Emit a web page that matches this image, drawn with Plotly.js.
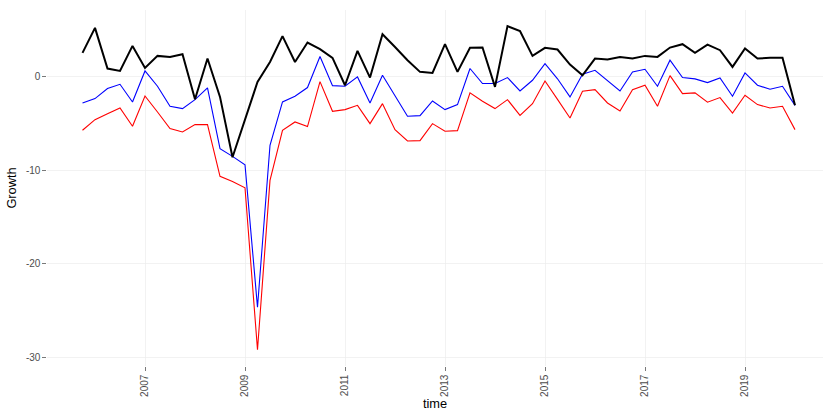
<!DOCTYPE html>
<html>
<head>
<meta charset="utf-8">
<script src="https://cdn.plot.ly/plotly-3.0.1.min.js"></script>
<style>html,body{margin:0;padding:0;background:#fff;}#chart{width:823px;height:411px;}</style>
</head>
<body>
<div id="chart"></div>
<script>
const time = [2005.75, 2006, 2006.25, 2006.5, 2006.75, 2007, 2007.25, 2007.5, 2007.75,
  2008, 2008.25, 2008.5, 2008.75, 2009, 2009.25, 2009.5, 2009.75,
  2010, 2010.25, 2010.5, 2010.75, 2011, 2011.25, 2011.5, 2011.75,
  2012, 2012.25, 2012.5, 2012.75, 2013, 2013.25, 2013.5, 2013.75,
  2014, 2014.25, 2014.5, 2014.75, 2015, 2015.25, 2015.5, 2015.75,
  2016, 2016.25, 2016.5, 2016.75, 2017, 2017.25, 2017.5, 2017.75,
  2018, 2018.25, 2018.5, 2018.75, 2019, 2019.25, 2019.5, 2019.75, 2020];

const growthBlack = [2.57, 5.25, 0.9, 0.64, 3.32, 0.96, 2.25, 2.14, 2.43, -2.39, 1.97, -2.14, -8.6, -4.54,
  -0.54, 1.6, 4.36, 1.6, 3.68, 2.97, 2.04, -0.89, 2.79, -0.07, 4.57, 3.2, 1.79, 0.54, 0.43, 3.5,
  0.54, 3.11, 3.14, -1.07, 5.43, 4.9, 2.25, 3.11, 2.93, 1.32, 0.18, 1.96, 1.86, 2.14, 1.96, 2.25,
  2.14, 3.14, 3.5, 2.57, 3.46, 2.86, 1.07, 3.04, 1.96, 2.04, 2.04, -3.04];

const growthBlue = [-2.79, -2.32, -1.25, -0.79, -2.68, 0.64, -1.0, -3.14, -3.39, -2.43, -1.18, -7.68, -8.5, -9.4,
  -24.65, -7.32, -2.68, -2.07, -1.14, 2.18, -0.93, -1.0, 0, -2.79, 0.18, -1.96, -4.21, -4.14, -2.57, -3.5,
  -2.96, 0.9, -0.71, -0.71, -0.07, -1.5, -0.36, 1.43, -0.2, -2.14, 0.29, 0.71, -0.43, -1.5, 0.54, 0.82,
  -1.0, 1.79, -0.07, -0.21, -0.61, -0.11, -2.07, 0.43, -0.89, -1.32, -1.0, -3.04];

const growthRed = [-5.71, -4.57, -3.93, -3.32, -5.28, -2.04, -3.75, -5.53, -5.89, -5.1, -5.1, -10.64, -11.18, -11.86,
  -29.2, -11.07, -5.71, -4.82, -5.32, -0.5, -3.68, -3.5, -3.04, -5.0, -2.86, -5.64, -6.86, -6.82, -5.0, -5.82,
  -5.75, -1.71, -2.61, -3.39, -2.43, -4.11, -2.86, -0.43, -2.4, -4.39, -1.54, -1.36, -2.79, -3.64, -1.36, -0.89,
  -3.14, 0.14, -1.79, -1.71, -2.71, -2.21, -3.86, -1.96, -2.96, -3.32, -3.14, -5.64];

const xTickVals = [2007, 2009, 2011, 2013, 2015, 2017, 2019];
const yTickVals = [-30, -20, -10, 0];

const traces = [
  {x: time, y: growthRed, type: 'scatter', mode: 'lines', line: {color: 'rgb(255,0,0)', width: 1.1}, hoverinfo: 'x+y'},
  {x: time, y: growthBlue, type: 'scatter', mode: 'lines', line: {color: 'rgb(0,0,255)', width: 1.1}, hoverinfo: 'x+y'},
  {x: time, y: growthBlack, type: 'scatter', mode: 'lines', line: {color: 'rgb(0,0,0)', width: 2}, hoverinfo: 'x+y'}
];

const tickFont = {family: 'Liberation Sans, Arial, sans-serif', size: 10, color: 'rgb(77,77,77)'};
const titleFont = {family: 'Liberation Sans, Arial, sans-serif', size: 12.8, color: 'rgb(0,0,0)'};

const layout = {
  width: 823, height: 411,
  margin: {l: 47, r: 0, t: 10, b: 45},
  paper_bgcolor: 'white', plot_bgcolor: 'white',
  showlegend: false,
  xaxis: {
    type: 'linear', range: [2005.04, 2020.56],
    tickmode: 'array', tickvals: xTickVals, ticktext: xTickVals.map(String),
    tickangle: -90, ticks: 'outside', ticklen: 3.65, tickwidth: 0.66, tickcolor: 'rgb(51,51,51)',
    tickfont: tickFont,
    showgrid: true, gridcolor: 'rgb(235,235,235)', gridwidth: 0.66,
    zeroline: false, showline: false,
    title: {text: 'time', font: titleFont, standoff: 4}
  },
  yaxis: {
    range: [-30.93, 7.16],
    tickmode: 'array', tickvals: yTickVals, ticktext: yTickVals.map(String),
    ticks: 'outside', ticklen: 3.65, tickwidth: 0.66, tickcolor: 'rgb(51,51,51)',
    tickfont: tickFont,
    showgrid: true, gridcolor: 'rgb(235,235,235)', gridwidth: 0.66,
    zeroline: false, showline: false,
    title: {text: 'Growth', font: titleFont, standoff: 6}
  }
};

Plotly.newPlot('chart', traces, layout, {displayModeBar: false, staticPlot: true});
</script>
</body>
</html>
